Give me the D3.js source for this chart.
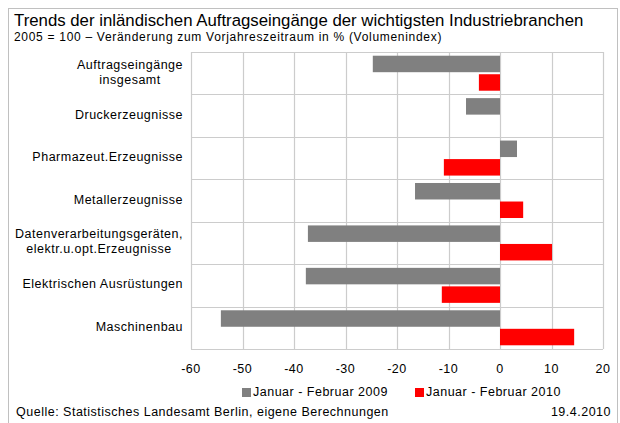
<!DOCTYPE html>
<html>
<head>
<meta charset="utf-8">
<script src="https://cdn.jsdelivr.net/npm/d3@7"></script>
<style>
  body { margin: 0; background: #fff; }
  text { font-family: "Liberation Sans", Arial, sans-serif; fill: #000; }
  .small { font-size: 12.5px; letter-spacing: 0.5px; }
</style>
</head>
<body>
<div id="chart"></div>
<script>
// categories (each label may have two lines)
var categories = [
  ["Auftragseingänge", "insgesamt"],
  ["Druckerzeugnisse"],
  ["Pharmazeut.Erzeugnisse"],
  ["Metallerzeugnisse"],
  ["Datenverarbeitungsgeräten,", "elektr.u.opt.Erzeugnisse"],
  ["Elektrischen Ausrüstungen"],
  ["Maschinenbau"]
];
// values, % change to previous year period
var jan2009 = [-24.7, -6.6, 3.3, -16.5, -37.3, -37.7, -54.2];
var jan2010 = [-4.1, null, -10.9, 4.5, 10.1, -11.3, 14.4];
var seriesNames = ["Januar - Februar 2009", "Januar - Februar 2010"];
var seriesColors = ["#808080", "#ff0000"];
var xTicks = [-60, -50, -40, -30, -20, -10, 0, 10, 20];

var W = 620, H = 423;
var plot = {left: 191, right: 603, top: 52, bottom: 349};

var svg = d3.select("#chart").append("svg")
  .attr("width", W).attr("height", H);

// outer frame
svg.append("rect")
  .attr("x", 8.5).attr("y", 8.5)
  .attr("width", 609).attr("height", 430)
  .attr("fill", "none").attr("stroke", "#c0c0c0");

// titles
svg.append("text").attr("x", 14).attr("y", 26)
  .style("font-size", "16.8px")
  .text("Trends der inländischen Auftragseingänge der wichtigsten Industriebranchen");
svg.append("text").attr("x", 14).attr("y", 41)
  .style("font-size", "12px").style("letter-spacing", "0.7px")
  .text("2005 = 100 – Veränderung zum Vorjahreszeitraum in % (Volumenindex)");

var x = d3.scaleLinear().domain([-60, 20]).range([plot.left, plot.right]);
var y = d3.scaleBand().domain(d3.range(categories.length))
  .range([plot.top, plot.bottom]).padding(0);
var ySub = d3.scaleBand().domain([0, 1])
  .range([0, y.bandwidth()]).paddingInner(0.11).paddingOuter(0.2);

// gridlines
var g = svg.append("g");
g.selectAll(".vgrid").data(xTicks).enter().append("line")
  .attr("x1", function(d) { return Math.round(x(d)) + 0.5; })
  .attr("x2", function(d) { return Math.round(x(d)) + 0.5; })
  .attr("y1", plot.top).attr("y2", plot.bottom)
  .attr("stroke", "#cccccc").attr("stroke-width", 1.2);
g.selectAll(".hgrid").data(d3.range(categories.length + 1)).enter().append("line")
  .attr("x1", plot.left).attr("x2", plot.right)
  .attr("y1", function(d) { return Math.round(plot.top + d * y.step()) + 0.5; })
  .attr("y2", function(d) { return Math.round(plot.top + d * y.step()) + 0.5; })
  .attr("stroke", "#cccccc").attr("stroke-width", 1.2);

// bars
[jan2009, jan2010].forEach(function(series, si) {
  var rows = series.map(function(v, i) { return {v: v, i: i}; })
    .filter(function(d) { return d.v !== null; });
  svg.selectAll(".bar" + si).data(rows).enter().append("rect")
    .attr("x", function(d) { return x(Math.min(0, d.v)); })
    .attr("width", function(d) { return Math.abs(x(d.v) - x(0)); })
    .attr("y", function(d) { return y(d.i) + ySub(si); })
    .attr("height", ySub.bandwidth())
    .attr("fill", seriesColors[si]);
});

// category labels
var labels = svg.selectAll(".cat").data(categories).enter().append("text")
  .attr("class", "small");
labels.each(function(lines, i) {
  var t = d3.select(this);
  var cy = y(i) + y.bandwidth() / 2;
  var lh = 15;
  lines.forEach(function(l, k) {
    t.append("tspan")
      .attr("x", 183)
      .attr("text-anchor", "end")
      .attr("y", cy + 3 + (k - (lines.length - 1) / 2) * lh)
      .text(l);
  });
});
// two-line labels: lines centred under each other, block right aligned
labels.filter(function(d) { return d.length > 1; }).each(function() {
  var spans = d3.select(this).selectAll("tspan").nodes();
  var w = d3.max(spans, function(s) { return s.getComputedTextLength(); });
  spans.forEach(function(s) {
    d3.select(s).attr("text-anchor", "middle").attr("x", 183 - w / 2);
  });
});

// x axis labels
svg.selectAll(".xt").data(xTicks).enter().append("text")
  .attr("class", "small")
  .attr("x", function(d) { return x(d); })
  .attr("y", 373)
  .attr("text-anchor", "middle")
  .text(function(d) { return d; });

// legend
var legX = [242, 415];
seriesNames.forEach(function(n, i) {
  svg.append("rect").attr("x", legX[i]).attr("y", 388)
    .attr("width", 9).attr("height", 9).attr("fill", seriesColors[i]);
  svg.append("text").attr("class", "small")
    .attr("x", legX[i] + 11).attr("y", 396).text(n);
});

// footer
svg.append("text").attr("class", "small").attr("x", 16).attr("y", 416)
  .text("Quelle: Statistisches Landesamt Berlin, eigene Berechnungen");
svg.append("text").attr("class", "small").attr("x", 611).attr("y", 416)
  .attr("text-anchor", "end")
  .text("19.4.2010");
</script>
</body>
</html>
